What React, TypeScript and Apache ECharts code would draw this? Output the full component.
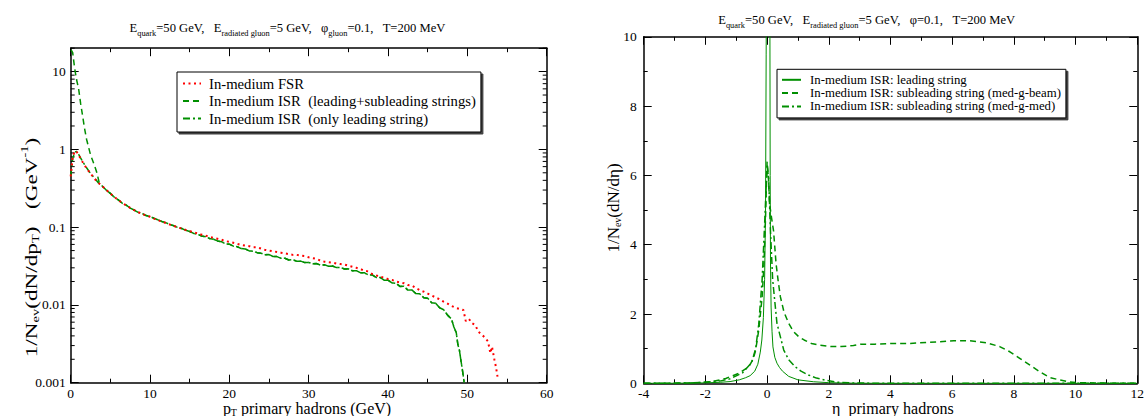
import React, { useEffect, useRef } from 'react';
import * as echarts from 'echarts';

// ---------------- Left panel: pT spectra ----------------
const fsrHeadPt = [0, 0.25, 0.5, 0.75, 1.0, 1.5, 2.0, 2.5, 3.0, 3.5];
const fsrHeadVal = [0.45, 0.8, 0.95, 0.93, 0.84, 0.69, 0.57, 0.49, 0.42, 0.37];
const leadHeadPt = [0, 0.25, 0.5, 0.75, 1.0, 1.5, 2.0, 2.5, 3.0, 3.5];
const leadHeadVal = [0.45, 0.76, 0.92, 0.94, 0.86, 0.7, 0.58, 0.49, 0.43, 0.37];
const leadSubHeadPt = [0.05, 0.25, 0.5, 0.75, 1.0, 1.25, 1.5, 1.75, 2.0, 2.5, 3.0, 3.3, 3.6];
const leadSubHeadVal = [19, 17.5, 11, 7.8, 6.0, 3.9, 2.7, 1.85, 1.35, 0.85, 0.62, 0.5, 0.37];

const tailPt = [
  4, 4.5, 5, 5.5, 6, 6.5, 7, 7.5, 8, 8.5, 9, 9.5, 10, 10.5, 11, 11.5, 12, 12.5, 13, 13.5,
  14, 14.5, 15, 15.5, 16, 16.5, 17, 17.5, 18, 18.5, 19, 19.5, 20, 20.5, 21, 21.5, 22, 22.5,
  23, 23.5, 24, 24.5, 25, 25.5, 26, 26.5, 27, 27.5, 28, 28.5, 29, 29.5, 30, 30.5, 31, 31.5,
  32, 32.5, 33, 33.5, 34, 34.5, 35, 35.5, 36, 36.5, 37, 37.5, 38, 38.5, 39, 39.5, 40, 40.5,
  41, 41.5, 42, 42.5, 43, 43.5, 44, 44.5, 45, 45.5, 46, 46.5, 47, 47.5, 48,
];
const isrTailVal = [
  0.335, 0.298, 0.272, 0.243, 0.224, 0.203, 0.192, 0.176, 0.166, 0.155, 0.15, 0.141, 0.137, 0.13,
  0.124, 0.118, 0.114, 0.108, 0.104, 0.099, 0.096, 0.091, 0.088, 0.083, 0.081, 0.077, 0.0755,
  0.0715, 0.07, 0.0665, 0.065, 0.061, 0.0605, 0.057, 0.056, 0.053, 0.0525, 0.0495, 0.049, 0.047,
  0.0462, 0.0443, 0.0444, 0.042, 0.0418, 0.0398, 0.0398, 0.0378, 0.0382, 0.0364, 0.0366, 0.035,
  0.0352, 0.0338, 0.034, 0.0325, 0.0328, 0.0314, 0.0316, 0.0302, 0.0304, 0.029, 0.0291, 0.0275,
  0.0276, 0.026, 0.026, 0.0243, 0.0244, 0.0226, 0.0226, 0.0208, 0.0208, 0.0192, 0.019, 0.0173,
  0.0174, 0.0155, 0.0156, 0.014, 0.0139, 0.0124, 0.0122, 0.0107, 0.0105, 0.0092, 0.0087, 0.0074,
  0.0066,
];
const fsrTailVal = [
  0.335, 0.3, 0.27, 0.245, 0.223, 0.205, 0.19, 0.177, 0.166, 0.156, 0.148, 0.141, 0.136, 0.129,
  0.123, 0.118, 0.113, 0.108, 0.104, 0.099, 0.096, 0.092, 0.089, 0.086, 0.083, 0.08, 0.078, 0.075,
  0.073, 0.071, 0.069, 0.066, 0.065, 0.063, 0.061, 0.059, 0.058, 0.057, 0.055, 0.055, 0.053,
  0.051, 0.05, 0.049, 0.048, 0.047, 0.046, 0.045, 0.044, 0.044, 0.043, 0.0425, 0.041, 0.04, 0.039,
  0.037, 0.036, 0.0355, 0.035, 0.034, 0.0335, 0.033, 0.032, 0.031, 0.03, 0.029, 0.0275, 0.027,
  0.025, 0.024, 0.023, 0.0225, 0.0215, 0.021, 0.02, 0.0195, 0.019, 0.018, 0.0178, 0.0165, 0.0155,
  0.0148, 0.014, 0.0132, 0.0125, 0.0118, 0.011, 0.0104, 0.0097,
];
const isrEndPt = [48.3, 48.6, 48.8, 49.0, 49.2, 49.4, 49.6];
const isrEndVal = [0.0052, 0.0044, 0.0031, 0.0026, 0.0019, 0.0014, 0.001];
const fsrEndPt = [48.5, 49, 49.5, 49.8, 50.2, 50.6, 51, 51.4, 51.8, 52.2, 52.6, 52.9, 53.1, 53.4, 53.6, 53.8];
const fsrEndVal = [
  0.0092, 0.0089, 0.0086, 0.0062, 0.0066, 0.0058, 0.0055, 0.0045, 0.0042, 0.0038, 0.0034, 0.0024,
  0.0029, 0.002, 0.0016, 0.0012,
];

// ---------------- Right panel: eta distributions ----------------
const leadEta = [
  -4, -3, -2.5, -2, -1.5, -1.2, -0.9, -0.7, -0.55, -0.4, -0.3, -0.22, -0.17, -0.12, -0.08, -0.05,
  -0.03, 0, 0.03, 0.06, 0.09, 0.1, 0.11, 0.13, 0.16, 0.19, 0.25, 0.32, 0.4, 0.5, 0.7, 1.0, 1.5, 2.0,
  2.5, 3, 4, 6, 8, 10, 12,
];
const leadVal = [
  0, 0.002, 0.006, 0.012, 0.03, 0.05, 0.1, 0.16, 0.22, 0.35, 0.55, 0.9, 1.25, 1.9, 3.0, 5.0, 9.5,
  16, 19, 16, 11, 6, 3.5, 2.2, 1.5, 1.05, 0.75, 0.58, 0.46, 0.35, 0.2, 0.1, 0.045, 0.018, 0.007,
  0.002, 0, 0, 0, 0, 0,
];
const beamEta = [
  -4, -3, -2.5, -2, -1.77, -1.34, -0.91, -0.59, -0.45, -0.37, -0.27, -0.16, -0.1, -0.05, 0, 0.04,
  0.08, 0.14, 0.21, 0.29, 0.36, 0.43, 0.55, 0.7, 0.85, 1.02, 1.2, 1.44, 1.7, 2.09, 2.4, 2.8, 3.05,
  3.5, 4.12, 4.6, 5.19, 5.6, 6.05, 6.58, 7.12, 7.54, 7.87, 8.19, 8.51, 8.83, 9.15, 9.47, 9.79, 10.1,
  10.6, 11, 12,
];
const beamVal = [
  0, 0.005, 0.012, 0.03, 0.05, 0.14, 0.29, 0.48, 0.7, 0.96, 1.54, 2.5, 3.46, 4.8, 6.4, 6.0, 5.2,
  4.8, 4.4, 3.46, 2.95, 2.5, 2.05, 1.73, 1.5, 1.35, 1.25, 1.15, 1.1, 1.06, 1.06, 1.09, 1.13, 1.13,
  1.15, 1.15, 1.18, 1.2, 1.23, 1.23, 1.17, 1.06, 0.91, 0.72, 0.53, 0.34, 0.17, 0.1, 0.04, 0.02,
  0.01, 0.005, 0,
];
const medEta = [
  -4, -3, -2.5, -2, -1.5, -1.2, -0.8, -0.5, -0.37, -0.27, -0.16, -0.08, 0, 0.05, 0.11, 0.18, 0.32,
  0.54, 0.7, 0.91, 1.1, 1.34, 1.6, 1.87, 2.3, 2.8, 3.5, 4, 6, 8, 10, 12,
];
const medVal = [
  0, 0.003, 0.01, 0.03, 0.07, 0.13, 0.3, 0.6, 1.0, 1.7, 3.0, 4.6, 6.3, 5.9, 4.4, 3.0, 1.73, 0.96,
  0.68, 0.48, 0.35, 0.24, 0.15, 0.095, 0.03, 0.01, 0.003, 0, 0, 0, 0, 0,
];

const leftNames = [
  'In-medium FSR',
  'In-medium ISR  (leading+subleading strings)',
  'In-medium ISR  (only leading string)',
];
const rightNames = [
  'In-medium ISR: leading string',
  'In-medium ISR: subleading string (med-g-beam)',
  'In-medium ISR: subleading string (med-g-med)',
];
const logLabels: Record<string, string> = { '-3': '0.001', '-2': '0.01', '-1': '0.1', '0': '1', '1': '10' };

const SERIF = '"Liberation Serif", "Times New Roman", serif';
const GREEN = '#008f00';
const RED = '#ff0000';

const zip = (xs: number[], ys: number[]) => xs.map((x, i) => [x, ys[i]]);

export default function App() {
  const ref = useRef<HTMLDivElement>(null);
  useEffect(() => {
    document.body.style.margin = '0';
    const chart = echarts.init(ref.current!, null, { renderer: 'svg' });
    const L = { left: 70.7, top: 48.2, width: 476, height: 334.5 };
    const R = { left: 643.7, top: 36.8, width: 498.3, height: 346.5 };

    const line = { show: true, onZero: false, lineStyle: { color: '#000', width: 1.5 } };
    const tick = { show: true, inside: true, length: 8, lineStyle: { color: '#000', width: 1 } };
    const minor = { show: true, splitNumber: 2, length: 4, lineStyle: { color: '#000', width: 1 } };
    const lab = (show: boolean, margin: number) => ({
      show,
      color: '#000',
      fontSize: 13.5,
      fontFamily: SERIF,
      margin,
    });
    const xAx = (grid: number, pos: string, min: number, max: number, interval: number, show: boolean, margin: number) => ({
      gridIndex: grid,
      type: 'value',
      position: pos,
      min,
      max,
      interval,
      axisLine: line,
      axisTick: tick,
      minorTick: minor,
      splitLine: { show: false },
      minorSplitLine: { show: false },
      axisLabel: lab(show, margin),
    });
    const logY = (pos: string, show: boolean) => ({
      gridIndex: 0,
      type: 'log',
      logBase: 10,
      position: pos,
      min: 0.001,
      max: 20,
      axisLine: line,
      axisTick: tick,
      splitLine: { show: false },
      axisLabel: {
        ...lab(show, 5),
        showMaxLabel: false,
        formatter: (v: number) => {
          const l = Math.log10(v);
          const r = Math.round(l);
          return Math.abs(l - r) < 1e-6 ? logLabels[String(r)] || '' : '';
        },
      },
    });

    const lineSeries = (name: string, xi: number, yi: number, data: number[][], color: string, width: number, type: any, z = 2) => ({
      name,
      type: 'line',
      xAxisIndex: xi,
      yAxisIndex: yi,
      data,
      color,
      symbol: 'none',
      showSymbol: false,
      silent: true,
      z,
      lineStyle: { color, width, type },
    });

    const legendBase = {
      orient: 'vertical',
      borderColor: '#000',
      borderWidth: 1,
      backgroundColor: '#fff',
      shadowColor: 'rgba(0,0,0,0.75)',
      shadowOffsetX: 2,
      shadowOffsetY: 2,
      shadowBlur: 0,
      selectedMode: false,
      itemWidth: 18,
      itemStyle: { color: 'rgba(0,0,0,0)', borderColor: 'rgba(0,0,0,0)', borderWidth: 0, opacity: 0 },
    };

    const option: any = {
      animation: false,
      backgroundColor: '#fff',
      grid: [
        { ...L, show: false },
        { ...R, show: false },
      ],
      xAxis: [
        xAx(0, 'bottom', 0, 60, 10, true, 4),
        xAx(0, 'top', 0, 60, 10, false, 4),
        xAx(1, 'bottom', -4, 12, 2, true, 3),
        xAx(1, 'top', -4, 12, 2, false, 3),
      ],
      yAxis: [
        logY('left', true),
        logY('right', false),
        { ...xAx(1, 'left', 0, 10, 2, true, 7), axisLabel: { ...lab(true, 7), showMaxLabel: true } },
        xAx(1, 'right', 0, 10, 2, false, 7),
      ],
      legend: [
        {
          ...legendBase,
          data: leftNames,
          left: 177,
          top: 72,
          padding: [4, 5, 6, 5],
          itemHeight: 15,
          itemGap: 2.5,
          textStyle: { fontFamily: SERIF, fontSize: 14.7, lineHeight: 15, color: '#000', padding: [0, 0, 0, 3] },
        },
        {
          ...legendBase,
          data: rightNames,
          left: 777,
          top: 69.3,
          padding: [4, 5, 5, 4],
          itemWidth: 19,
          itemHeight: 13,
          itemGap: 0.3,
          textStyle: { fontFamily: SERIF, fontSize: 12.8, lineHeight: 13, color: '#000', padding: [0, 0, 0, 4] },
        },
      ],
      series: [
        lineSeries(leftNames[1], 0, 0, [...zip(leadSubHeadPt, leadSubHeadVal), ...zip(tailPt, isrTailVal), ...zip(isrEndPt, isrEndVal)], GREEN, 1.5, [6, 4]),
        lineSeries(leftNames[2], 0, 0, [...zip(leadHeadPt, leadHeadVal), ...zip(tailPt, isrTailVal), ...zip(isrEndPt, isrEndVal)], GREEN, 1.5, [7, 3, 2, 3]),
        lineSeries(leftNames[0], 0, 0, [...zip(fsrHeadPt, fsrHeadVal), ...zip(tailPt, fsrTailVal), ...zip(fsrEndPt, fsrEndVal)], RED, 2, [2, 3.5], 3),
        lineSeries(rightNames[0], 2, 2, zip(leadEta, leadVal), GREEN, 1, 'solid'),
        lineSeries(rightNames[1], 2, 2, zip(beamEta, beamVal), GREEN, 1.5, [6, 4]),
        lineSeries(rightNames[2], 2, 2, zip(medEta, medVal), GREEN, 1.5, [7, 3, 2, 3]),
      ],
    };
    chart.setOption(option);

    // minor ticks of the log axis, placed via the axis scale
    const minorTicks: any[] = [];
    for (let k = -3; k <= 1; k++) {
      for (let m = 2; m <= 9; m++) {
        const v = m * Math.pow(10, k);
        if (v > 20) continue;
        const y = chart.convertToPixel({ yAxisIndex: 0 }, v) as number;
        minorTicks.push(
          { type: 'line', silent: true, shape: { x1: L.left, y1: y, x2: L.left + 4, y2: y }, style: { stroke: '#000', lineWidth: 1 } },
          { type: 'line', silent: true, shape: { x1: L.left + L.width - 4, y1: y, x2: L.left + L.width, y2: y }, style: { stroke: '#000', lineWidth: 1 } },
        );
      }
    }

    const n = { fontFamily: SERIF, fontSize: 12.6, lineHeight: 14, verticalAlign: 'top', fill: '#000' };
    const s = { fontFamily: SERIF, fontSize: 8.4, lineHeight: 8, padding: [8, 0, 0, 0], verticalAlign: 'top', fill: '#000' };
    const an = { fontFamily: SERIF, fontSize: 16, lineHeight: 16, padding: [4, 0, 0, 0], verticalAlign: 'top', fill: '#000' };
    const as = { fontFamily: SERIF, fontSize: 10, lineHeight: 10, padding: [12, 0, 0, 0], verticalAlign: 'top', fill: '#000' };
    const ap = { fontFamily: SERIF, fontSize: 10, lineHeight: 10, padding: [1, 0, 0, 0], verticalAlign: 'top', fill: '#000' };
    const rn = { ...an, fontSize: 17, lineHeight: 17 };
    // x-axis names: tight boxes
    const xn = { fontFamily: SERIF, fontSize: 16, lineHeight: 14, verticalAlign: 'top', fill: '#000' };
    const xs = { fontFamily: SERIF, fontSize: 10, lineHeight: 8, padding: [7, 0, 0, 0], verticalAlign: 'top', fill: '#000' };

    const texts: any[] = [
      {
        type: 'text', silent: true, x: 287.5, y: 28,
        style: {
          text: '{n|E}{s|quark}{n|=50 GeV,   E}{s|radiated gluon}{n|=5 GeV,   \u03c6}{s|gluon}{n|=0.1,   T=200 MeV}',
          rich: { n, s }, align: 'center', verticalAlign: 'middle',
        },
      },
      {
        type: 'text', silent: true, x: 866.7, y: 20,
        style: {
          text: '{n|E}{s|quark}{n|=50 GeV,   E}{s|radiated gluon}{n|=5 GeV,   \u03c6=0.1,   T=200 MeV}',
          rich: { n, s }, align: 'center', verticalAlign: 'middle',
        },
      },
      {
        type: 'text', silent: true, x: 307, y: 407,
        style: { text: '{n|p}{s|T}{n| primary hadrons (GeV)}', rich: { n: xn, s: xs }, align: 'center', verticalAlign: 'middle' },
      },
      {
        type: 'text', silent: true, x: 892.9, y: 407,
        style: { text: '{n|\u03b7  primary hadrons}', rich: { n: xn }, align: 'center', verticalAlign: 'middle' },
      },
      {
        type: 'text', silent: true, x: 27, y: 247.5, rotation: Math.PI / 2, scaleX: 1.45,
        style: {
          text: '{n|1/N}{s|ev}{n|(dN/dp}{s|T}{n|)   (GeV}{p|-1}{n|)}',
          rich: { n: an, s: as, p: ap }, align: 'center', verticalAlign: 'middle',
        },
      },
      {
        type: 'text', silent: true, x: 609, y: 208, rotation: Math.PI / 2,
        style: {
          text: '{n|1/N}{s|ev}{n|(dN/d\u03b7)}',
          rich: { n: rn, s: as }, align: 'center', verticalAlign: 'middle',
        },
      },
    ];

    chart.setOption({ graphic: [...texts, ...minorTicks] });
    return () => chart.dispose();
  }, []);
  return <div ref={ref} style={{ width: 1147, height: 416 }} />;
}
